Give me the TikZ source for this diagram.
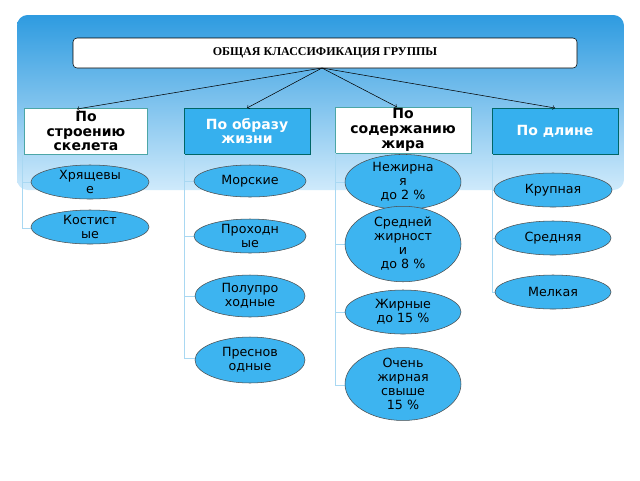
\documentclass[tikz,border=0pt]{standalone}
\usepackage{fontspec}
\setmainfont{DejaVu Sans}
\newfontfamily\headfont{Liberation Serif}
\usetikzlibrary{positioning,shapes.geometric}
\definecolor{skyA}{HTML}{2E9BE0}
\definecolor{skyB}{HTML}{CFEAFB}
\definecolor{ovalfill}{HTML}{3DB4F0}
\definecolor{catblue}{HTML}{36B0EE}
\definecolor{treeline}{HTML}{A9D8F2}
\tikzset{%
  cat/.style={rectangle,draw=teal!70,minimum width=#1,minimum height=46*0.75pt,
    font=\bfseries\fontsize{10.5}{11}\selectfont,align=center,inner sep=0pt},
  catw/.style={cat=#1,fill=white,text=black},
  catb/.style={cat=#1,fill=catblue,text=white,draw=teal!80!black},
  leaf/.style={ellipse,draw=black!70,fill=ovalfill,font=\fontsize{9.5}{10.5}\selectfont,
    align=center,inner sep=0pt},
  tree/.style={treeline,line width=0.6pt}
}
\begin{document}
\begin{tikzpicture}[x=0.75pt,y=-0.75pt]
  \useasboundingbox (0,0) rectangle (640,480);
  \fill[white] (0,0) rectangle (640,480);
  % banner
  \shade[top color=skyA,bottom color=skyB,rounded corners=8pt] (17,15) rectangle (624,190);

  \node [draw,fill=white,rounded corners=3pt,minimum width=504*0.75pt,minimum height=30*0.75pt,
    font=\headfont\bfseries\fontsize{9}{10}\selectfont] (head) at (325,53) {ОБЩАЯ КЛАССИФИКАЦИЯ ГРУППЫ};

  \node [catw=123*0.75pt] (skel) at (86,131) {По\\строению\\скелета};
  \node [catb=126*0.75pt] (life) at (247,131) {По образу\\жизни};
  \node [catw=136*0.75pt] (fat) at (403,130) {По\\содержанию\\жира};
  \node [catb=126*0.75pt] (len) at (555,131) {По длине};

  \draw [->] (322,68) -- (77,109);
  \draw [->] (322,68) -- (247,108);
  \draw [->] (322,68) -- (397,107);
  \draw [->] (322,68) -- (555,108);

  % tree lines
  \draw [tree] (22,155) -- (22,228) -- (31,228);
  \draw [tree] (22,182) -- (31,182);
  \draw [tree] (184,154) -- (184,358) -- (195,358);
  \foreach \y in {181,236,296} \draw [tree] (184,\y) -- (195,\y);
  \draw [tree] (335,153) -- (335,385) -- (345,385);
  \foreach \y in {182,244,312} \draw [tree] (335,\y) -- (345,\y);
  \draw [tree] (492,154) -- (492,292) -- (495,292);
  \foreach \y in {190,238} \draw [tree] (492,\y) -- (495,\y);

  % leaves
  \node [leaf,minimum width=118*0.75pt,minimum height=34*0.75pt] (k1) at (90,182) {Хрящевы\\е};
  \node [leaf,minimum width=118*0.75pt,minimum height=34*0.75pt] (k2) at (90,227) {Костист\\ые};
  \node [leaf,minimum width=112*0.75pt,minimum height=32*0.75pt] (z1) at (250,181) {Морские};
  \node [leaf,minimum width=112*0.75pt,minimum height=34*0.75pt] (z2) at (250,236) {Проходн\\ые};
  \node [leaf,minimum width=110*0.75pt,minimum height=42*0.75pt] (z3) at (250,296) {Полупро\\ходные};
  \node [leaf,minimum width=110*0.75pt,minimum height=46*0.75pt] (z4) at (250,360) {Преснов\\одные};
  \node [leaf,minimum width=116*0.75pt,minimum height=44*0.75pt] (j1) at (403,182) {Нежирна\\я\\до 2 \%};
  \node [leaf,minimum width=116*0.75pt,minimum height=52*0.75pt] (j2) at (403,244) {Средней\\жирност\\и\\до 8 \%};
  \node [leaf,minimum width=116*0.75pt,minimum height=44*0.75pt] (j3) at (403,312) {Жирные\\до 15 \%};
  \node [leaf,minimum width=116*0.75pt,minimum height=64*0.75pt] (j4) at (403,384) {Очень\\жирная\\свыше\\15 \%};
  \node [leaf,minimum width=118*0.75pt,minimum height=34*0.75pt] (d1) at (553,190) {Крупная};
  \node [leaf,minimum width=116*0.75pt,minimum height=34*0.75pt] (d2) at (553,238) {Средняя};
  \node [leaf,minimum width=116*0.75pt,minimum height=34*0.75pt] (d3) at (553,292) {Мелкая};
\end{tikzpicture}
\end{document}
